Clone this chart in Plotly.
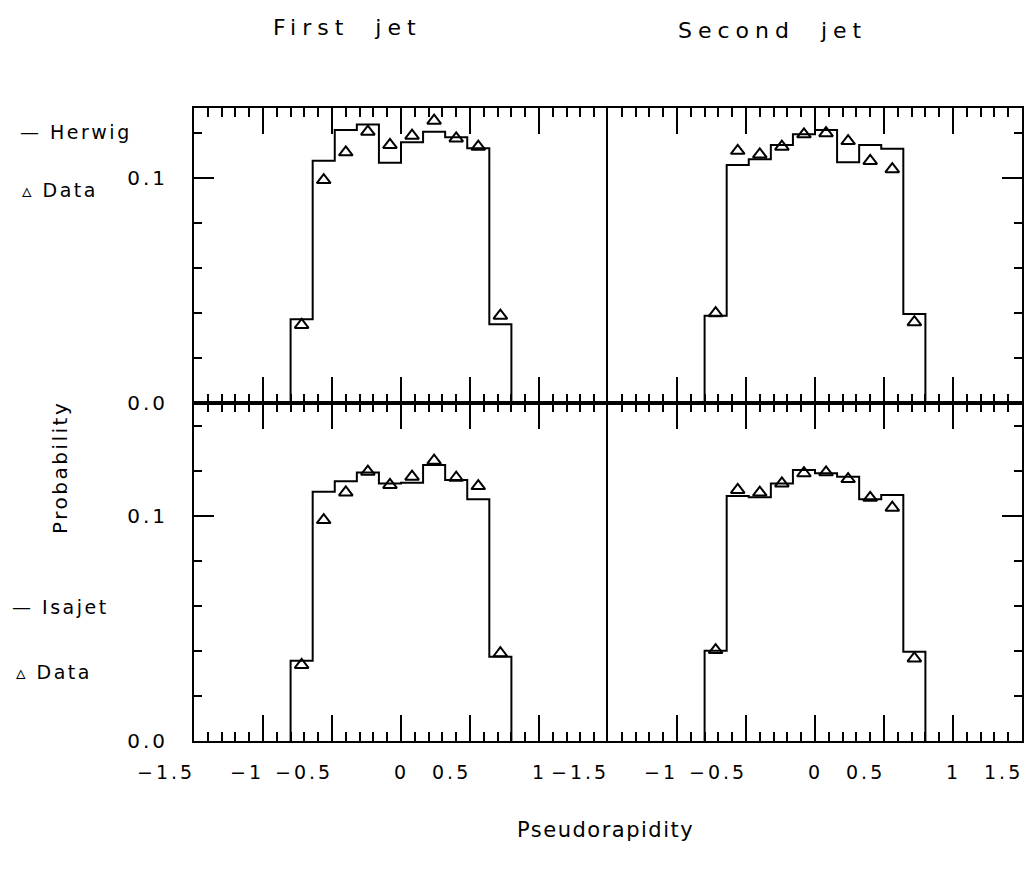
import plotly.graph_objects as go

# ---------------- data ----------------
bin_edges = [-0.8, -0.64, -0.48, -0.32, -0.16, 0.0, 0.16, 0.32, 0.48, 0.64, 0.8]
bin_centers = [-0.72, -0.56, -0.40, -0.24, -0.08, 0.08, 0.24, 0.40, 0.56, 0.72]

herwig_first = [0.0372, 0.1077, 0.1213, 0.1238, 0.1068, 0.1159, 0.1206, 0.1181, 0.1132, 0.0350]
data_first_top = [0.0347, 0.0991, 0.1114, 0.1206, 0.1147, 0.1188, 0.1255, 0.1176, 0.1139, 0.0388]
herwig_second = [0.0388, 0.1058, 0.1083, 0.1147, 0.1194, 0.1213, 0.1070, 0.1147, 0.1130, 0.0396]
data_second_top = [0.0399, 0.1121, 0.1105, 0.1139, 0.1194, 0.1199, 0.1164, 0.1076, 0.1039, 0.0359]

isajet_first = [0.0357, 0.1108, 0.1154, 0.1193, 0.1145, 0.1148, 0.1227, 0.1160, 0.1074, 0.0375]
data_first_bottom = [0.0338, 0.0982, 0.1105, 0.1197, 0.1138, 0.1175, 0.1246, 0.1170, 0.1133, 0.0390]
isajet_second = [0.0401, 0.1089, 0.1083, 0.1145, 0.1204, 0.1190, 0.1175, 0.1074, 0.1093, 0.0397]
data_second_bottom = [0.0404, 0.1116, 0.1104, 0.1145, 0.1190, 0.1194, 0.1164, 0.1081, 0.1037, 0.0367]

left_tick_labels = ["\u22121.5", "\u22121", "\u22120.5", "0", "0.5", "1"]
left_tick_vals = [-1.5, -1.0, -0.5, 0.0, 0.5, 1.0]
right_tick_labels = ["\u22121.5", "\u22121", "\u22120.5", "0", "0.5", "1", "1.5"]
right_tick_vals = [-1.5, -1.0, -0.5, 0.0, 0.5, 1.0, 1.5]
y_tick_vals = [0.0, 0.1]
y_tick_labels = ["0.0", "0.1"]

panel_titles = ["First\u00a0\u00a0jet", "Second\u00a0\u00a0jet"]

# ---------------- layout geometry ----------------
W, H = 1026, 874
L, R, T, B = 194, 1022, 108, 741
MID = 403
FONT = "DejaVu Sans"


def px_x(p):
    return (p - L) / (R - L)


def px_y(p):
    return (B - p) / (B - T)


def spaced(t, ls):
    return "<span style='letter-spacing:%.1fpx'>%s</span>" % (ls, t)


split = px_y(MID)
top_max = (MID - T) / 2250.0
bot_max = (B - MID) / 2250.0

fig = go.Figure()


def hist_xy(vals):
    xs = [bin_edges[0]] + bin_edges
    ys = [0.0] + vals + [0.0]
    return xs, ys


panels = [
    ("x", "y", isajet_first, data_first_bottom),
    ("x2", "y2", isajet_second, data_second_bottom),
    ("x3", "y3", herwig_first, data_first_top),
    ("x4", "y4", herwig_second, data_second_top),
]
for xa, ya, mc, dt in panels:
    hx, hy = hist_xy(mc)
    fig.add_trace(go.Scatter(x=hx, y=hy, mode="lines", line=dict(color="black", width=2, shape="hv"),
                             xaxis=xa, yaxis=ya, showlegend=False, hoverinfo="skip"))
    fig.add_trace(go.Scatter(x=bin_centers, y=dt, mode="markers",
                             marker=dict(symbol="triangle-up-open", size=12, color="black",
                                         line=dict(color="black", width=2)),
                             xaxis=xa, yaxis=ya, showlegend=False))

xcommon = dict(range=[-1.5, 1.5], showgrid=False, zeroline=False, showline=True, linecolor="black",
               linewidth=2, mirror="ticks", ticks="inside", tick0=-1.5, dtick=0.5, ticklen=26,
               tickwidth=2, tickcolor="black", showticklabels=False,
               minor=dict(ticks="inside", dtick=0.1, tick0=-1.5, ticklen=9, tickwidth=2,
                          tickcolor="black", showgrid=False))
ycommon = dict(showgrid=False, zeroline=False, showline=True, linecolor="black", linewidth=2,
               ticks="inside", tick0=0, dtick=0.1, ticklen=20, tickwidth=2, tickcolor="black",
               minor=dict(ticks="inside", dtick=0.02, tick0=0, ticklen=8, tickwidth=2,
                          tickcolor="black", showgrid=False))
ylabels = dict(tickmode="array", tickvals=y_tick_vals, ticktext=[spaced(t, 3) for t in y_tick_labels],
               ticklabelstandoff=20, tickfont=dict(size=20, family=FONT))

fig.update_layout(
    width=W, height=H,
    margin=dict(l=L, r=W - R, t=T, b=H - B),
    paper_bgcolor="white", plot_bgcolor="white",
    font=dict(family=FONT, color="black", size=20),
    xaxis=dict(domain=[0, 0.5], anchor="y", **xcommon),
    xaxis2=dict(domain=[0.5, 1], anchor="y2", **xcommon),
    xaxis3=dict(domain=[0, 0.5], anchor="y3", **xcommon),
    xaxis4=dict(domain=[0.5, 1], anchor="y4", **xcommon),
    yaxis=dict(domain=[0, split], anchor="x", range=[0, bot_max], mirror=False, **ylabels, **ycommon),
    yaxis2=dict(domain=[0, split], anchor="x2", side="right", range=[0, bot_max], mirror=True,
                showticklabels=False, **ycommon),
    yaxis3=dict(domain=[split, 1], anchor="x3", range=[0, top_max], mirror=False, **ylabels, **ycommon),
    yaxis4=dict(domain=[split, 1], anchor="x4", side="right", range=[0, top_max], mirror=True,
                showticklabels=False, **ycommon),
)

ann = []
label_y = px_y(772)
LS_TICK = 3
for vals, labs, xref in [(left_tick_vals, left_tick_labels, "x"), (right_tick_vals, right_tick_labels, "x2")]:
    for v, t in zip(vals, labs):
        single = len(t) == 1
        ann.append(dict(x=v, y=label_y, xref=xref, yref="paper", text=spaced(t, LS_TICK), showarrow=False,
                        xanchor="center" if single else "right", yanchor="middle",
                        xshift=LS_TICK / 2 - 1 if single else LS_TICK,
                        font=dict(size=19, family=FONT)))

# panel titles
ann.append(dict(x=px_x(347), y=px_y(28), xref="paper", yref="paper", text=spaced(panel_titles[0], 6),
                showarrow=False, xanchor="center", yanchor="middle", font=dict(size=22, family=FONT)))
ann.append(dict(x=px_x(772), y=px_y(30), xref="paper", yref="paper", text=spaced(panel_titles[1], 6),
                showarrow=False, xanchor="center", yanchor="middle", font=dict(size=22, family=FONT)))
# axis titles
ann.append(dict(x=px_x(605), y=px_y(830), xref="paper", yref="paper", text=spaced("Pseudorapidity", 1.5),
                showarrow=False, xanchor="center", yanchor="middle", font=dict(size=21, family=FONT)))
ann.append(dict(x=px_x(60), y=px_y(468), xref="paper", yref="paper", text=spaced("Probability", 2.5),
                showarrow=False, textangle=-90, xanchor="center", yanchor="middle",
                font=dict(size=20, family=FONT)))
# legends
for txt, xp, yp in [("\u2014 Herwig", 18, 132), ("\u25b5\u00a0Data", 20, 190),
                    ("\u2014 Isajet", 10, 607), ("\u25b5\u00a0Data", 14, 672)]:
    ann.append(dict(x=px_x(xp), y=px_y(yp), xref="paper", yref="paper", text=spaced(txt, 2.5),
                    showarrow=False, xanchor="left", yanchor="middle", font=dict(size=19, family=FONT)))

fig.update_layout(annotations=ann)
fig.write_html("out.html")
